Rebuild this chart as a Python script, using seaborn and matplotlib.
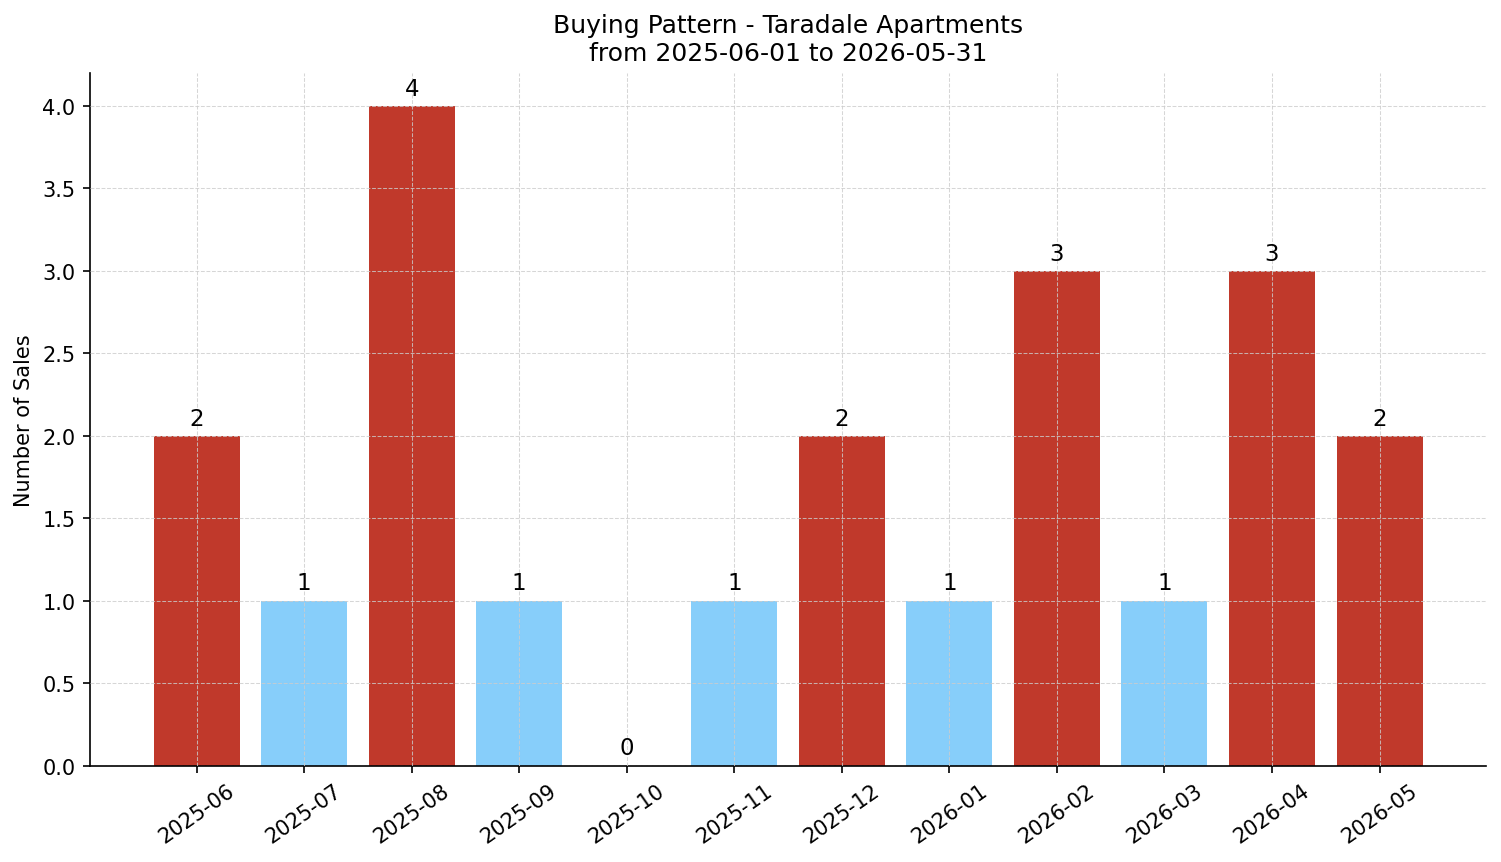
import matplotlib
matplotlib.use("Agg")
import matplotlib.pyplot as plt
import seaborn as sns
import pandas as pd

months = ["2025-06", "2025-07", "2025-08", "2025-09", "2025-10", "2025-11",
          "2025-12", "2026-01", "2026-02", "2026-03", "2026-04", "2026-05"]
sales = [2, 1, 4, 1, 0, 1, 2, 1, 3, 1, 3, 2]

RED = "#C0392B"
BLUE = "#87CEFA"
colors = [RED if v >= 2 else BLUE for v in sales]

df = pd.DataFrame({"month": months, "sales": sales})

plt.rcParams["font.family"] = ["DejaVu Sans"]

fig, ax = plt.subplots(figsize=(10.007, 5.753), dpi=150)
sns.barplot(data=df, x="month", y="sales", hue="month", palette=colors,
            legend=False, width=0.8, saturation=1, linewidth=0, ax=ax)

for cont in ax.containers:
    ax.bar_label(cont, padding=3, fontsize=11, color="black")

ax.set_xlim(-0.99, len(months) - 1 + 0.99)
ax.set_ylim(0, 4.2)
ax.set_xlabel("")
ax.set_ylabel("Number of Sales")
ax.set_title("Buying Pattern - Taradale Apartments\nfrom 2025-06-01 to 2026-05-31", fontsize=12)
ax.grid(True, linestyle="--", linewidth=0.5, color="#cccccc", alpha=0.8)
ax.set_axisbelow(False)
plt.setp(ax.get_xticklabels(), rotation=35, ha="center")
sns.despine(ax=ax)

fig.subplots_adjust(left=0.06, right=0.99, top=0.9145, bottom=0.1115)
fig.savefig("out.png", dpi=150)
